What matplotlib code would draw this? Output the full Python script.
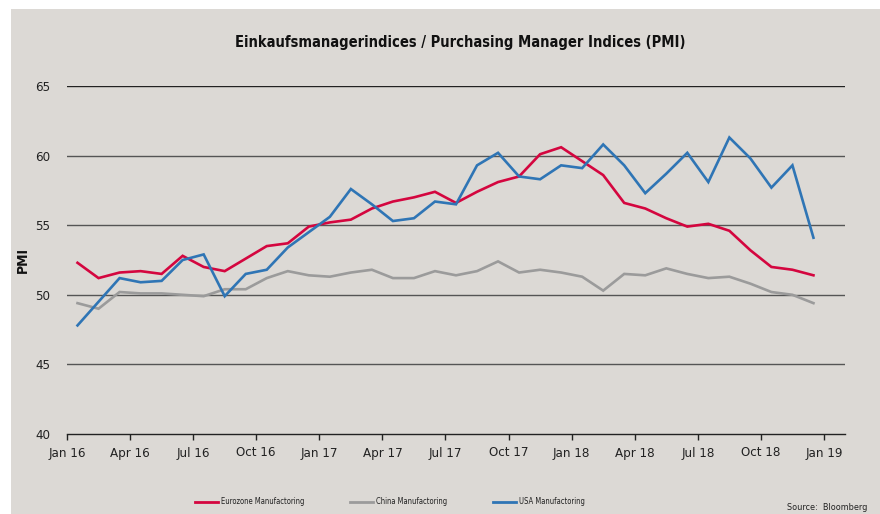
import matplotlib
import numpy as np

matplotlib.use("Agg")
from matplotlib import pyplot as plt
from matplotlib.patches import Rectangle
from matplotlib.lines import Line2D

plt.rcParams["font.family"] = ["DejaVu Sans"]
plt.rcParams["font.stretch"] = "condensed"

# monthly PMI, Jan 2016 .. Dec 2018
eurozone = [52.3, 51.2, 51.6, 51.7, 51.5, 52.8, 52.0, 51.7, 52.6, 53.5, 53.7, 54.9,
            55.2, 55.4, 56.2, 56.7, 57.0, 57.4, 56.6, 57.4, 58.1, 58.5, 60.1, 60.6,
            59.6, 58.6, 56.6, 56.2, 55.5, 54.9, 55.1, 54.6, 53.2, 52.0, 51.8, 51.4]
china = [49.4, 49.0, 50.2, 50.1, 50.1, 50.0, 49.9, 50.4, 50.4, 51.2, 51.7, 51.4,
         51.3, 51.6, 51.8, 51.2, 51.2, 51.7, 51.4, 51.7, 52.4, 51.6, 51.8, 51.6,
         51.3, 50.3, 51.5, 51.4, 51.9, 51.5, 51.2, 51.3, 50.8, 50.2, 50.0, 49.4]
usa = [47.8, 49.5, 51.2, 50.9, 51.0, 52.5, 52.9, 49.9, 51.5, 51.8, 53.4, 54.5,
       55.6, 57.6, 56.5, 55.3, 55.5, 56.7, 56.5, 59.3, 60.2, 58.5, 58.3, 59.3,
       59.1, 60.8, 59.3, 57.3, 58.7, 60.2, 58.1, 61.3, 59.8, 57.7, 59.3, 54.1]
tick_labels = ["Jan 16", "Apr 16", "Jul 16", "Oct 16", "Jan 17", "Apr 17", "Jul 17",
               "Oct 17", "Jan 18", "Apr 18", "Jul 18", "Oct 18", "Jan 19"]
series_names = ["Eurozone Manufactoring", "China Manufactoring", "USA Manufactoring"]
colors = ["#d4063f", "#9b9b9b", "#2f75b5"]

bg = "#dcd9d5"
figure = plt.figure(figsize=(8.8, 5.14), dpi=100)
figure.patch.set_facecolor("white")
figure.add_artist(Rectangle((11 / 880, 0), 1, 1 - 9 / 514, transform=figure.transFigure,
                            facecolor=bg, edgecolor="none", zorder=0))

axis = figure.add_axes([67 / 880, 1 - 434 / 514, (845 - 67) / 880, (434 - 86) / 514])
axis.set_facecolor(bg)
axis.patch.set_alpha(0)

# points sit mid-month
months = np.arange(len(eurozone)) + 0.5
for values, color in zip([eurozone, china, usa], colors):
    axis.plot(months, values, color=color, linewidth=1.9, solid_joinstyle="miter", zorder=3)

axis.set_xlim(0, 37)
axis.set_ylim(40, 65)
axis.set_yticks(np.arange(40, 66, 5))
axis.set_xticks(np.arange(0, 37, 3))
axis.set_xticklabels(tick_labels)
for y in range(45, 66, 5):
    axis.axhline(y, color="#555555" if y < 65 else "#222222", linewidth=1.0, zorder=1)
for side in ["left", "right", "top"]:
    axis.spines[side].set_visible(False)
axis.spines["bottom"].set_color("#222222")
axis.spines["bottom"].set_linewidth(1.0)
axis.tick_params(axis="x", length=4, width=1, color="#222222", labelsize=9.5,
                 labelcolor="#222222", pad=5)
axis.tick_params(axis="y", length=0, labelsize=9.5, labelcolor="#222222", pad=12)
axis.set_ylabel("PMI", fontsize=10, fontweight="bold", labelpad=4, color="#111111")

figure.text(460 / 880, 1 - 43 / 514, "Einkaufsmanagerindices / Purchasing Manager Indices (PMI)",
            ha="center", va="center", fontsize=10.5, fontweight="bold", color="#111111")

handles = [Line2D([], [], color=c, linewidth=2.0) for c in colors]
figure.legend(handles, series_names, loc="center left", bbox_to_anchor=(188 / 880, 1 - 502 / 514),
              ncol=3, frameon=False, fontsize=5.5, handlelength=3.0, handletextpad=0.4,
              columnspacing=6.0, labelcolor="#222222")
figure.text(867 / 880, 1 - 508 / 514, "Source:  Bloomberg", ha="right", va="center",
            fontsize=6.5, color="#222222")

figure.savefig("out.png", dpi=100, facecolor=figure.get_facecolor())
plt.close(figure)
